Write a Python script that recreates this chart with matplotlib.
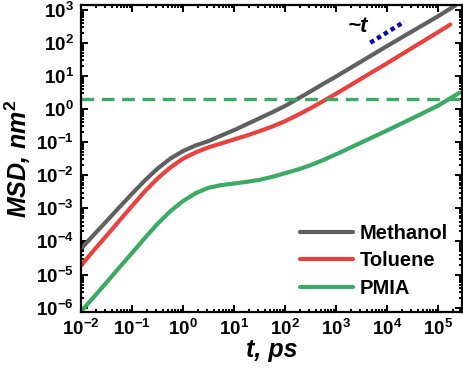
import math
import matplotlib
matplotlib.use("Agg")
import matplotlib.pyplot as plt
from matplotlib.ticker import FixedLocator, FuncFormatter, NullFormatter

plt.rcParams['font.family'] = ['Liberation Sans', 'DejaVu Sans']
plt.rcParams['font.weight'] = 'bold'
plt.rcParams['mathtext.fontset'] = 'custom'
plt.rcParams['mathtext.rm'] = 'Liberation Sans:bold'
plt.rcParams['mathtext.bf'] = 'Liberation Sans:bold'
plt.rcParams['mathtext.it'] = 'Liberation Sans:bold:italic'
plt.rcParams['mathtext.default'] = 'it'

# ---- data ----
t_grid = [1e-2, 1.78e-2, 3.16e-2, 5.62e-2, 0.1, 0.178, 0.316, 0.562, 1.0, 1.78,
          3.16, 5.62, 10, 17.8, 31.6, 56.2, 100, 178, 316, 562, 1e3, 3.16e3,
          1e4, 3.16e4, 1e5]

msd_methanol = [6.03e-5, 1.58e-4, 4.07e-4, 1.07e-3, 2.75e-3, 6.9e-3, 1.58e-2, 3.16e-2,
                5.37e-2, 7.94e-2, 0.107, 0.158, 0.229, 0.347, 0.525, 0.794, 1.23,
                2.04, 3.39, 5.75, 9.55, 27.5, 79.4, 224, 631]
t_end_methanol = 2.2e5
msd_end_methanol = 1350

msd_toluene = [1.86e-5, 5.37e-5, 1.48e-4, 4.17e-4, 1.17e-3, 3.24e-3, 7.94e-3, 1.70e-2,
               3.16e-2, 4.9e-2, 6.92e-2, 9.12e-2, 0.120, 0.158, 0.214, 0.295, 0.427,
               0.661, 1.05, 1.74, 2.88, 8.32, 24.0, 70.8, 209]
t_end_toluene = 1.74e5
msd_end_toluene = 355

msd_pmia = [7.6e-7, 2.09e-6, 5.75e-6, 1.62e-5, 4.47e-5, 1.26e-4, 3.39e-4, 8.13e-4,
            1.66e-3, 2.88e-3, 4.17e-3, 5.01e-3, 5.62e-3, 6.31e-3, 7.24e-3, 8.91e-3,
            1.15e-2, 1.48e-2, 2.0e-2, 2.88e-2, 4.27e-2, 9.77e-2, 0.224, 0.525, 1.26]
t_end_pmia = 2.63e5
msd_end_pmia = 3.09

threshold = 2.04
guide_t = [4.7e3, 2.2e4]
guide_msd = [100, 435]

x_decades = [-2, -1, 0, 1, 2, 3, 4, 5]
y_decades = [-6, -5, -4, -3, -2, -1, 0, 1, 2, 3]

series_names = ['Methanol', 'Toluene', 'PMIA']
colors = ['#606060', '#e8413f', '#3aaa64']

fig = plt.figure(figsize=(4.64, 3.69), dpi=100)
ax = fig.add_axes([81/464, 1 - 312/369, (462-81)/464, (312-5)/369])

series = [
    (t_grid + [t_end_methanol], msd_methanol + [msd_end_methanol]),
    (t_grid + [t_end_toluene], msd_toluene + [msd_end_toluene]),
    (t_grid + [t_end_pmia], msd_pmia + [msd_end_pmia]),
]
for (tt, mm), name, c in zip(series, series_names, colors):
    ax.plot(tt, mm, color=c, lw=3, label=name, solid_capstyle='round',
            solid_joinstyle='round')

ax.axhline(threshold, color=colors[2], lw=2.4, dashes=(3.8, 2.3))
ax.plot(guide_t, guide_msd, color='#0a0aa8', lw=3.2, linestyle=(0, (1, 0.8)),
        dash_capstyle='butt')
ax.text(2.7e3, 306, '~t', fontsize=16, fontweight='bold', fontstyle='italic',
        ha='center', va='center')

ax.set_xscale('log')
ax.set_yscale('log')
xlim = (1e-2, 2.95e5)
ylim = (7.4e-7, 1.38e3)
ax.set_xlim(*xlim)
ax.set_ylim(*ylim)


def minors(decades, lim):
    vals = []
    for d in range(decades[0] - 1, decades[-1] + 1):
        for k in range(2, 10):
            v = k * 10.0 ** d
            if lim[0] <= v <= lim[1]:
                vals.append(v)
    return vals


fmt = FuncFormatter(lambda v, p: r'$\mathbf{10^{%d}}$' % round(math.log10(v)))
ax.xaxis.set_major_locator(FixedLocator([10.0 ** d for d in x_decades]))
ax.yaxis.set_major_locator(FixedLocator([10.0 ** d for d in y_decades]))
ax.xaxis.set_minor_locator(FixedLocator(minors(x_decades, xlim)))
ax.yaxis.set_minor_locator(FixedLocator(minors(y_decades, ylim)))
for axis in (ax.xaxis, ax.yaxis):
    axis.set_major_formatter(fmt)
    axis.set_minor_formatter(NullFormatter())

ax.tick_params(which='both', direction='in', top=True, right=True, width=1.4)
ax.tick_params(which='major', length=5, labelsize=13.5, pad=5)
ax.tick_params(which='minor', length=2.5)
for s in ax.spines.values():
    s.set_linewidth(1.6)

ax.set_xlabel('t, ps', fontsize=18, fontweight='bold', fontstyle='italic', labelpad=-1)
ax.set_ylabel('MSD, nm$^2$', fontsize=18, fontweight='bold', fontstyle='italic', labelpad=2)

leg = ax.legend(loc='lower right', frameon=False, fontsize=14.5, handlelength=2.6,
                handletextpad=0.35, labelspacing=0.42, borderaxespad=0.3)

fig.savefig('out.png', dpi=100)
